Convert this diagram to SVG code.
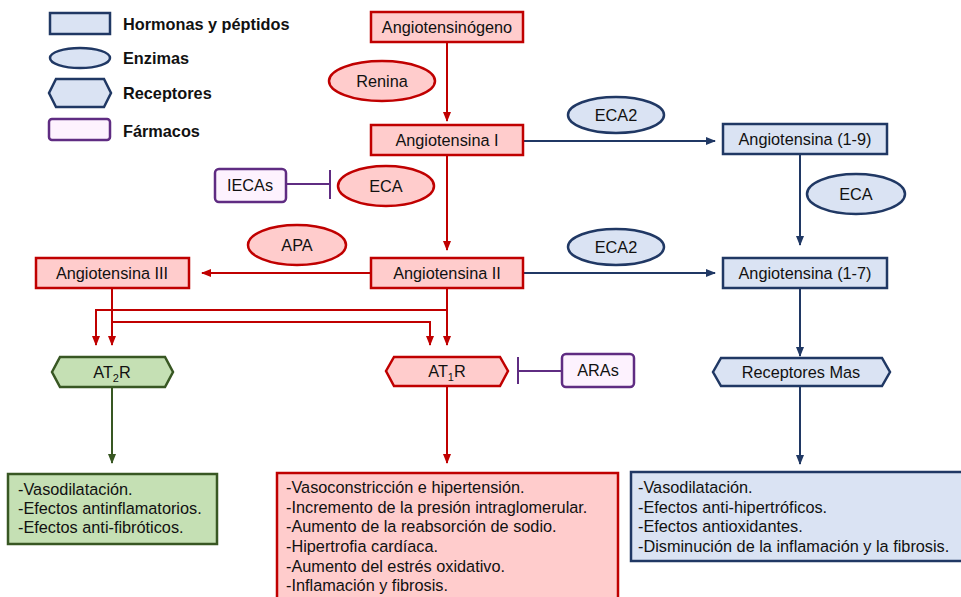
<svg xmlns="http://www.w3.org/2000/svg" width="961" height="597" viewBox="0 0 961 597">
<defs>
<marker id="aR" markerWidth="10" markerHeight="10" refX="9" refY="5" orient="auto" markerUnits="userSpaceOnUse"><path d="M0,1 L10,5 L0,9 Z" fill="#c00000"/></marker>
<marker id="aB" markerWidth="10" markerHeight="10" refX="9" refY="5" orient="auto" markerUnits="userSpaceOnUse"><path d="M0,1 L10,5 L0,9 Z" fill="#203864"/></marker>
<marker id="aG" markerWidth="10" markerHeight="10" refX="9" refY="5" orient="auto" markerUnits="userSpaceOnUse"><path d="M0,1 L10,5 L0,9 Z" fill="#385723"/></marker>
</defs>
<style>
text{font-family:"Liberation Sans",Arial,sans-serif;font-size:16.3px;fill:#111}
.c{text-anchor:middle}
.lg{font-weight:bold;font-size:16.3px}
.red{fill:#ffcccc;stroke:#c00000;stroke-width:2.5}
.blue{fill:#dae3f3;stroke:#203864;stroke-width:2.5}
.green{fill:#c5e0b4;stroke:#385723;stroke-width:2.5}
.purp{fill:#fdf2fe;stroke:#5f2c82;stroke-width:2.5}
.lr{fill:none;stroke:#c00000;stroke-width:2}
.lb{fill:none;stroke:#203864;stroke-width:2}
.lgn{fill:none;stroke:#385723;stroke-width:2}
.lp{fill:none;stroke:#5f2c82;stroke-width:2}
</style>
<rect width="961" height="597" fill="#fff"/>

<g id="legend">
<rect class="blue" x="50" y="13" width="60" height="21"/>
<text class="lg" x="123" y="30">Hormonas y péptidos</text>
<ellipse class="blue" cx="80" cy="58" rx="30" ry="10"/>
<text class="lg" x="123" y="64">Enzimas</text>
<polygon class="blue" points="49,93 56,79 104,79 111,93 104,107 56,107"/>
<text class="lg" x="123" y="99">Receptores</text>
<rect class="purp" x="49" y="119" width="61" height="21" rx="3"/>
<text class="lg" x="123" y="137">Fármacos</text>
</g>

<g id="connectors">
<line class="lr" x1="447" y1="42" x2="447" y2="121" marker-end="url(#aR)"/>
<line class="lr" x1="447" y1="155" x2="447" y2="250" marker-end="url(#aR)"/>
<line class="lb" x1="523" y1="141" x2="715" y2="141" marker-end="url(#aB)"/>
<line class="lb" x1="800" y1="154" x2="800" y2="245" marker-end="url(#aB)"/>
<line class="lb" x1="523" y1="273" x2="715" y2="273" marker-end="url(#aB)"/>
<path class="lb" d="M800,288 L800,356" marker-end="url(#aB)"/>
<line class="lb" x1="800" y1="386" x2="800" y2="464" marker-end="url(#aB)"/>
<line class="lr" x1="370" y1="273" x2="202" y2="273" marker-end="url(#aR)"/>
<path class="lr" d="M447,288 L447,345" marker-end="url(#aR)"/>
<path class="lr" d="M447,310 L96,310 L96,345" marker-end="url(#aR)"/>
<path class="lr" d="M112,288 L112,345" marker-end="url(#aR)"/>
<path class="lr" d="M112,322 L430,322 L430,345" marker-end="url(#aR)"/>
<line class="lgn" x1="112" y1="387" x2="112" y2="463" marker-end="url(#aG)"/>
<line class="lr" x1="447" y1="386" x2="447" y2="463" marker-end="url(#aR)"/>
<line class="lp" x1="286" y1="184" x2="330" y2="184"/>
<line class="lp" x1="330" y1="170" x2="330" y2="199"/>
<line class="lp" x1="518" y1="371" x2="562" y2="371"/>
<line class="lp" x1="518" y1="357" x2="518" y2="384"/>
</g>

<g id="angiotensinogeno">
<rect class="red" x="371" y="12" width="152" height="30"/>
<text class="c" x="447" y="33">Angiotensinógeno</text>
</g>
<g id="renina">
<ellipse class="red" cx="382" cy="81" rx="53" ry="20"/>
<text class="c" x="382" y="87">Renina</text>
</g>
<g id="angiotensina1">
<rect class="red" x="371" y="125" width="152" height="30"/>
<text class="c" x="447" y="146">Angiotensina I</text>
</g>
<g id="eca2-top">
<ellipse class="blue" cx="616" cy="115" rx="48" ry="18"/>
<text class="c" x="616" y="121">ECA2</text>
</g>
<g id="angiotensina19">
<rect class="blue" x="723" y="124" width="164" height="30"/>
<text class="c" x="805" y="145">Angiotensina (1-9)</text>
</g>
<g id="eca-right">
<ellipse class="blue" cx="856" cy="194" rx="49" ry="20"/>
<text class="c" x="856" y="200">ECA</text>
</g>
<g id="iecas">
<rect class="purp" x="215" y="169" width="71" height="33" rx="4"/>
<text class="c" x="250" y="191">IECAs</text>
</g>
<g id="eca-red">
<ellipse class="red" cx="386" cy="186" rx="48" ry="20"/>
<text class="c" x="386" y="192">ECA</text>
</g>
<g id="apa">
<ellipse class="red" cx="297" cy="245" rx="49" ry="20"/>
<text class="c" x="297" y="251">APA</text>
</g>
<g id="eca2-bottom">
<ellipse class="blue" cx="616" cy="247" rx="48" ry="18"/>
<text class="c" x="616" y="253">ECA2</text>
</g>
<g id="angiotensina2">
<rect class="red" x="371" y="258" width="152" height="30"/>
<text class="c" x="447" y="279">Angiotensina II</text>
</g>
<g id="angiotensina3">
<rect class="red" x="36" y="258" width="153" height="30"/>
<text class="c" x="112" y="279">Angiotensina III</text>
</g>
<g id="angiotensina17">
<rect class="blue" x="723" y="258" width="164" height="30"/>
<text class="c" x="805" y="279">Angiotensina (1-7)</text>
</g>
<g id="at2r">
<polygon class="green" points="52,372 60,357 165,357 173,372 165,387 60,387"/>
<text class="c" x="112" y="378">AT<tspan font-size="11" dy="4">2</tspan><tspan dy="-4">R</tspan></text>
</g>
<g id="at1r">
<polygon class="red" points="386,371 394,357 500,357 508,371 500,386 394,386"/>
<text class="c" x="447" y="377">AT<tspan font-size="11" dy="4">1</tspan><tspan dy="-4">R</tspan></text>
</g>
<g id="aras">
<rect class="purp" x="562" y="354" width="72" height="33" rx="4"/>
<text class="c" x="598" y="376">ARAs</text>
</g>
<g id="receptores-mas">
<polygon class="blue" points="713,372 721,358 882,358 890,372 882,386 721,386"/>
<text class="c" x="801" y="378">Receptores Mas</text>
</g>
<g id="efectos-at2r">
<rect class="green" x="8" y="474" width="209" height="70"/>
<text x="18" y="495">-Vasodilatación.</text>
<text x="18" y="514">-Efectos antinflamatorios.</text>
<text x="18" y="533">-Efectos anti-fibróticos.</text>
</g>
<g id="efectos-at1r">
<rect class="red" x="277" y="473" width="341" height="130"/>
<text x="286" y="493">-Vasoconstricción e hipertensión.</text>
<text x="286" y="513">-Incremento de la presión intraglomerular.</text>
<text x="286" y="532">-Aumento de la reabsorción de sodio.</text>
<text x="286" y="552">-Hipertrofia cardíaca.</text>
<text x="286" y="572">-Aumento del estrés oxidativo.</text>
<text x="286" y="591">-Inflamación y fibrosis.</text>
</g>
<g id="efectos-mas">
<rect class="blue" x="631" y="472" width="335" height="89"/>
<text x="638" y="493">-Vasodilatación.</text>
<text x="638" y="513">-Efectos anti-hipertróficos.</text>
<text x="638" y="532">-Efectos antioxidantes.</text>
<text x="638" y="552">-Disminución de la inflamación y la fibrosis.</text>
</g>
</svg>
